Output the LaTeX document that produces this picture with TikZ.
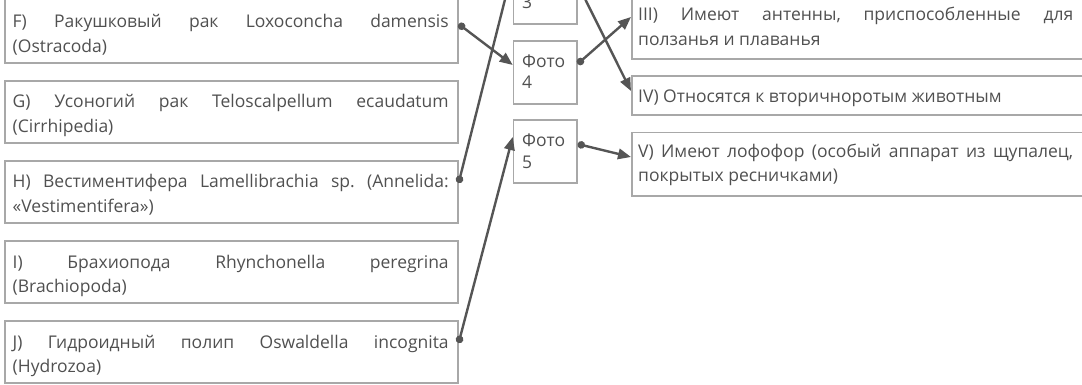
\documentclass[tikz,border=0pt]{standalone}
\usepackage{fontspec}
\setmainfont{Open Sans}
\frenchspacing
\usetikzlibrary{arrows.meta,calc}
\definecolor{boxc}{HTML}{A8A8A8}
\definecolor{linec}{HTML}{555555}
\definecolor{txtc}{HTML}{505050}
\begin{document}
\begin{tikzpicture}[x=1pt,y=-1pt,
  box/.style={draw=boxc,line width=1.6pt,rectangle,inner sep=0pt,anchor=north west},
  lbox/.style={box,minimum width=453pt,minimum height=62pt},
  pbox/.style={box,minimum width=63.3pt,minimum height=63pt},
  rbox/.style={box,minimum width=460pt},
  txt/.style={text=txtc,inner sep=0pt,anchor=base west,font=\fontsize{17.5}{24.5}\selectfont\frenchspacing},
  jtxt/.style={txt,text width=436pt,align=justify},
  ptxt/.style={txt,text width=50pt,align=left,font=\fontsize{17.5}{21.5}\selectfont},
  conn/.style={draw=linec,line width=2.4pt,{Circle[length=7.5pt]}-{Triangle[length=13pt,width=10.5pt]}}
]
\useasboundingbox (0,0) rectangle (1082,385);
\clip (0,0) rectangle (1082,385);

% left column
\node[lbox,minimum height=66pt] (F) at (4,-4) {};
\node[lbox] (G) at (4,80) {};
\node[lbox] (H) at (4,160) {};
\node[lbox] (I) at (4,240) {};
\node[lbox] (J) at (4,320) {};
\node[jtxt] (Ft) at (12.5,28) {F) Ракушковый рак Loxoconcha damensis\linebreak (Ostracoda)};
\node[jtxt] (Gt) at (12.5,108) {G) Усоногий рак Teloscalpellum ecaudatum\linebreak (Cirrhipedia)};
\node[jtxt] (Ht) at (12.5,188) {H) Вестиментифера Lamellibrachia sp. (Annelida:\linebreak «Vestimentifera»)};
\node[jtxt] (It) at (12.5,268) {I) Брахиопода Rhynchonella peregrina\linebreak (Brachiopoda)};
\node[jtxt] (Jt) at (12.5,348) {J) Гидроидный полип Oswaldella incognita\linebreak (Hydrozoa)};

% photo column
\node[pbox] (P3) at (512.7,-40) {};
\node[pbox] (P4) at (512.7,40) {};
\node[pbox] (P5) at (512.7,119.5) {};
\node[ptxt] (P3t) at (522,-12.5) {Фото\\3};
\node[ptxt] (P4t) at (522,67.5) {Фото\\4};
\node[ptxt] (P5t) at (522,147) {Фото\\5};

% right column
\node[rbox,minimum height=63.3pt] (R3) at (631,-5) {};
\node[rbox,minimum height=39.3pt] (R4) at (631,75) {};
\node[rbox,minimum height=63.3pt] (R5) at (631,131.7) {};
\node[jtxt,text width=435pt] (R3t) at (638,21) {III) Имеют антенны, приспособленные для\linebreak ползанья и плаванья};
\node[txt] (R4t) at (638,102.5) {IV) Относятся к вторичноротым животным};
\node[jtxt,text width=435pt] (R5t) at (638,157.5) {V) Имеют лофофор (особый аппарат из щупалец,\linebreak покрытых ресничками)};

% connector end points
\coordinate (Fo) at ($(F.north east)+(0,28)$);
\coordinate (Ho) at ($(H.north east)+(0,23)$);
\coordinate (Jo) at ($(J.north east)+(0,23)$);
\coordinate (P3o) at ($(P3.north east)+(0,24)$);
\coordinate (P4o) at ($(P4.north east)+(0,24)$);
\coordinate (P5o) at ($(P5.north east)+(0,24.5)$);
\coordinate (P3i) at ($(P3.north west)+(0,9)$);
\coordinate (P4i) at ($(P4.north west)+(0,25)$);
\coordinate (P5i) at ($(P5.north west)+(0,17.5)$);
\coordinate (R3i) at ($(R3.north west)+(0,22)$);
\coordinate (R4i) at ($(R4.north west)+(0,16)$);
\coordinate (R5i) at ($(R5.north west)+(0,25.3)$);

\draw[conn] (Fo) -- (P4i);
\draw[conn] (Ho) -- (P3i);
\draw[conn] (Jo) -- (P5i);
\draw[conn] (P3o) -- (R4i);
\draw[conn] (P4o) -- (R3i);
\draw[conn] (P5o) -- (R5i);
\end{tikzpicture}
\end{document}
